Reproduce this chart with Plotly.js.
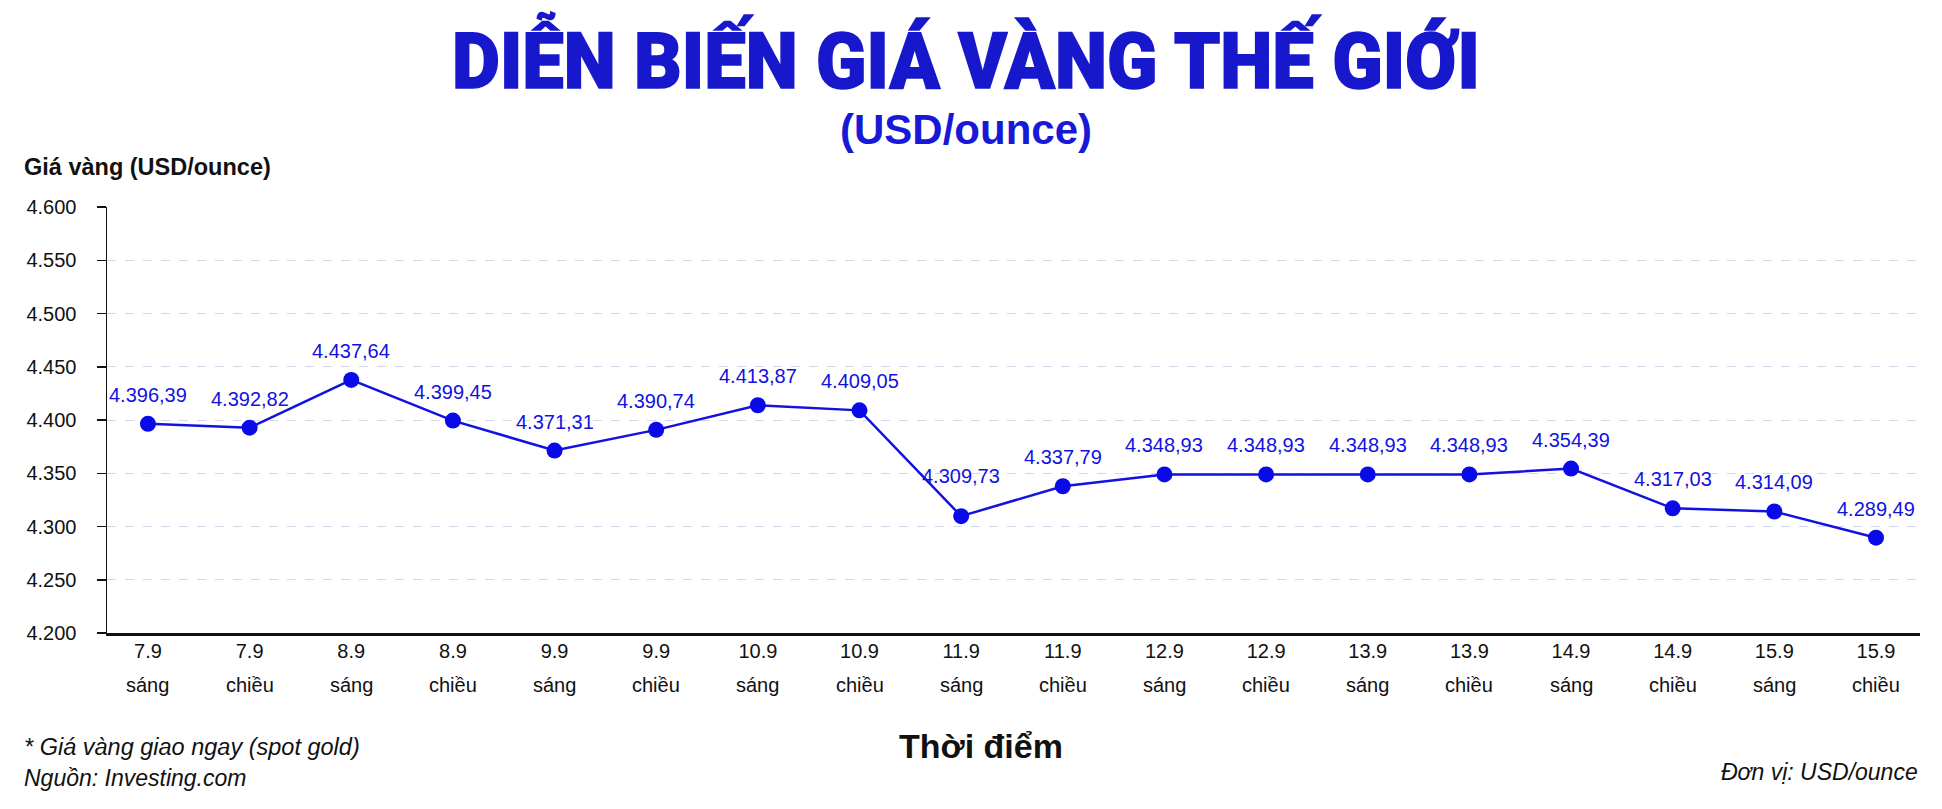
<!DOCTYPE html>
<html>
<head>
<meta charset="utf-8">
<script src="https://cdn.plot.ly/plotly-3.0.1.min.js"></script>
<style>
  html, body { margin: 0; padding: 0; background: #fff; }
  #chart { width: 1942px; height: 809px; }
</style>
</head>
<body>
<div id="chart"></div>
<script>
const days = ["7.9", "7.9", "8.9", "8.9", "9.9", "9.9", "10.9", "10.9", "11.9",
  "11.9", "12.9", "12.9", "13.9", "13.9", "14.9", "14.9", "15.9", "15.9"];
const sessions = ["sáng", "chiều", "sáng", "chiều", "sáng", "chiều", "sáng", "chiều", "sáng",
  "chiều", "sáng", "chiều", "sáng", "chiều", "sáng", "chiều", "sáng", "chiều"];
const prices = [4396.39, 4392.82, 4437.64, 4399.45, 4371.31, 4390.74, 4413.87, 4409.05, 4309.73,
  4337.79, 4348.93, 4348.93, 4348.93, 4348.93, 4354.39, 4317.03, 4314.09, 4289.49];
const yTicks = [4200, 4250, 4300, 4350, 4400, 4450, 4500, 4550, 4600];

// plot box in pixels
const W = 1942, H = 809;
const M = { l: 107, r: 22, t: 207, b: 176 };
const plotW = W - M.l - M.r;
const plotH = H - M.t - M.b;
const px = X => (X - M.l) / plotW;
const py = Y => (H - M.b - Y) / plotH;

const blue = "#1212e0";
const sans = "Liberation Sans, Arial, sans-serif";

const categories = days.map((d, i) => `${d} ${sessions[i]}`);
const fmt = v => v.toFixed(2).replace(/\B(?=(\d{3})+(?!\d))/g, "#")
  .replace(".", ",").replace(/#/g, ".");

// label 8 sits lower on the steep drop, pushed a bit higher
const labelNudge = { 8: [0, 40] };

const trace = {
  x: categories,
  y: prices,
  type: "scatter",
  mode: "lines+markers",
  line: { color: blue, width: 2.5 },
  marker: { color: "#0a0ae8", size: 16 },
  hoverinfo: "skip",
};

const pointLabels = prices.map((v, i) => {
  const [dx, dy] = labelNudge[i] || [0, 29];
  return {
    x: categories[i], y: v, xref: "x", yref: "y",
    text: fmt(v), showarrow: false,
    xanchor: "center", yanchor: "middle",
    xshift: dx, yshift: dy,
    font: { family: sans, size: 20, color: blue },
  };
});

// second line of the x labels, set a little lower than a <br> would put it
const sessionLabels = sessions.map((s, i) => ({
  x: categories[i], y: py(685), xref: "x", yref: "paper",
  text: s, showarrow: false, xanchor: "center", yanchor: "middle",
  font: { family: sans, size: 20, color: "#111" },
}));

const textNotes = [
  {
    x: px(966), y: py(130), text: "(USD/ounce)",
    xanchor: "center", yanchor: "middle",
    font: { family: sans, size: 42, color: "#1818d8", weight: "bold" },
  },
  {
    x: px(22), y: py(167), text: "Giá vàng (USD/ounce)",
    xanchor: "left", yanchor: "middle",
    font: { family: sans, size: 23.5, color: "#111", weight: "bold" },
  },
  {
    x: px(981), y: py(746), text: "Thời điểm",
    xanchor: "center", yanchor: "middle",
    font: { family: sans, size: 34, color: "#111", weight: "bold" },
  },
  {
    x: px(22), y: py(747), text: "* Giá vàng giao ngay (spot gold)",
    xanchor: "left", yanchor: "middle",
    font: { family: sans, size: 23.5, color: "#111", style: "italic" },
  },
  {
    x: px(22), y: py(778), text: "Nguồn: Investing.com",
    xanchor: "left", yanchor: "middle",
    font: { family: sans, size: 23, color: "#111", style: "italic" },
  },
  {
    x: px(1920), y: py(772), text: "Đơn vị: USD/ounce",
    xanchor: "right", yanchor: "middle",
    font: { family: sans, size: 23, color: "#111", style: "italic" },
  },
].map(a => ({ ...a, xref: "paper", yref: "paper", showarrow: false }));

const layout = {
  width: W,
  height: H,
  paper_bgcolor: "#fff",
  plot_bgcolor: "#fff",
  margin: M,
  showlegend: false,
  separators: ",.",
  font: { family: sans, color: "#111" },
  title: {
    text: "DIỄN BIẾN GIÁ VÀNG THẾ GIỚI",
    x: 966 / W,
    xanchor: "center",
    y: 1 - 61 / H,
    yanchor: "middle",
    font: { family: "Roboto, Liberation Sans, sans-serif", size: 78, color: "#1717cc", weight: 900 },
  },
  xaxis: {
    type: "category",
    range: [-0.403, 17.433],
    tickvals: categories,
    ticktext: days,
    tickfont: { family: sans, size: 20, color: "#111" },
    ticks: "",
    ticklabelstandoff: -2,
    showgrid: false,
    showline: true,
    linecolor: "#111",
    linewidth: 2.5,
    zeroline: false,
    fixedrange: true,
  },
  yaxis: {
    range: [4200, 4600],
    tickvals: yTicks,
    tickformat: ",d",
    tickfont: { family: sans, size: 20, color: "#111" },
    ticks: "outside",
    ticklen: 9,
    tickwidth: 1.5,
    tickcolor: "#111",
    ticklabelstandoff: 16,
    showline: true,
    linecolor: "#111",
    linewidth: 1.5,
    showgrid: true,
    gridcolor: "#d3d7f2",
    griddash: "dash",
    gridwidth: 1,
    zeroline: false,
    fixedrange: true,
  },
  annotations: [...pointLabels, ...sessionLabels, ...textNotes],
};

Plotly.newPlot("chart", [trace], layout, { displayModeBar: false, staticPlot: true })
  .then(gd => {
    // the original heading is a tall condensed black face: squeeze it to width
    const t = gd.querySelector(".gtitle");
    if (t) {
      t.setAttribute("textLength", "1028");
      t.setAttribute("lengthAdjust", "spacingAndGlyphs");
      t.style.stroke = "#1717cc";
      t.style.strokeWidth = "1.5px";
    }
  });
</script>
</body>
</html>
